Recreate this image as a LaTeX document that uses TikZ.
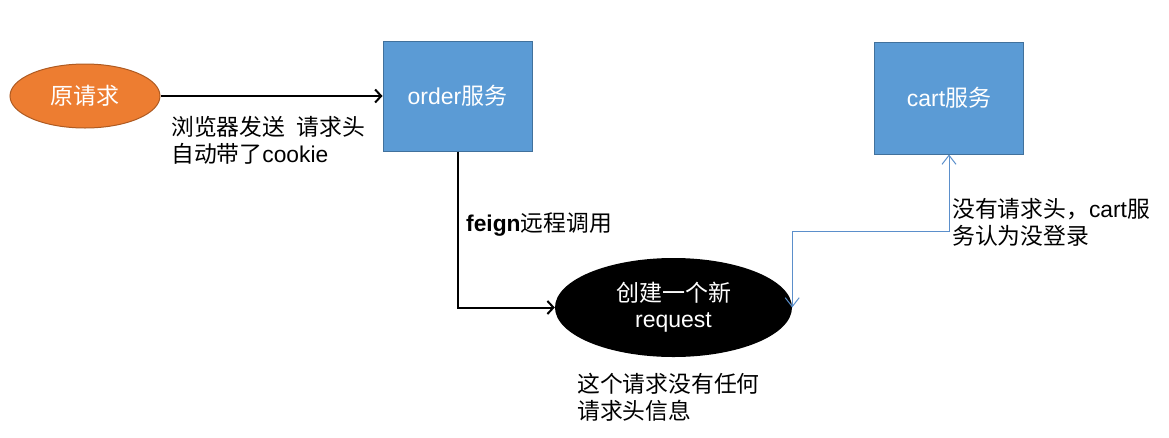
\documentclass[tikz,border=0pt]{standalone}
\usepackage{fontspec}
\setmainfont{Liberation Sans}
\newfontfamily\cjk{Noto Sans CJK SC}
\newcommand{\zh}[1]{{\cjk #1}}
\usetikzlibrary{shapes.geometric,arrows.meta}
\definecolor{orangefill}{HTML}{ED7D31}
\definecolor{orangeline}{HTML}{AE5A21}
\definecolor{bluefill}{HTML}{5B9BD5}
\definecolor{blueline}{HTML}{41719C}
\definecolor{linkblue}{HTML}{5B8FCB}
\tikzset{
  svcbox/.style={draw=blueline, line width=1pt, fill=bluefill, minimum width=149pt, minimum height=110pt, inner sep=0pt, text=white, font=\fontsize{23}{27}\selectfont},
  blackarrow/.style={draw=black, line width=2pt, -{Straight Barb[length=6pt,width=13pt,line width=2pt]}},
  bluearrow/.style={draw=linkblue, line width=1pt, {Straight Barb[length=9pt,width=14pt]}-{Straight Barb[length=9pt,width=14pt]}},
  note/.style={anchor=north west, inner sep=0pt, align=left, font=\fontsize{22.8}{27}\selectfont}
}
\begin{document}
\begin{tikzpicture}[x=1pt,y=-1pt]
\useasboundingbox (0,0) rectangle (1169,437);
\node[ellipse, draw=orangeline, line width=1pt, fill=orangefill, minimum width=150pt, minimum height=64pt, inner sep=0pt, text=white, font=\fontsize{23}{27}\selectfont] (orig) at (85,96) {\zh{原请求}};
\node[svcbox] (order) at (457.5,96) {order\zh{服务}};
\node[svcbox, minimum height=112pt] (cart) at (949,98) {cart\zh{服务}};
\node[ellipse, fill=black, minimum width=237pt, minimum height=99pt, inner sep=0pt, text=white, align=center, font=\fontsize{23}{26}\selectfont] (req) at (673.5,307.5) {\zh{创建一个新}\\request};
\draw[blackarrow] (orig.east) -- (order.west);
\draw[blackarrow] (order.south) |- (req.west);
\coordinate (bend) at (req.east |- 0,231);
\draw[bluearrow] (req.east) -- (bend) -| (cart.south);
\node[note] (l1) at (171,116) {\zh{浏览器发送}\hspace{0.5em}\zh{请求头}\\\zh{自动带了}cookie};
\node[note] (l2) at (466,212) {\textbf{feign}\zh{远程调用}};
\node[note] (l3) at (577,373) {\zh{这个请求没有任何}\\\zh{请求头信息}};
\node[note] (l4) at (952,198) {\zh{没有请求头，}cart\zh{服}\\\zh{务认为没登录}};
\end{tikzpicture}
\end{document}
